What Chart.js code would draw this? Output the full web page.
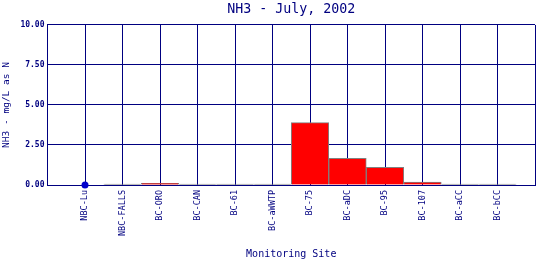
<!DOCTYPE html>
<html>
<head>
<meta charset="utf-8">
<script src="https://cdn.jsdelivr.net/npm/chart.js@4"></script>
<style>
    html, body { margin: 0; padding: 0; background: #fff; }
    #wrap { width: 540px; height: 260px; }
</style>
</head>
<body>
<div id="wrap"><canvas id="nh3Chart" width="540" height="260"></canvas></div>
<script>
// sites along the x axis
const sites = ['NBC-Lu', 'NBC-FALLS', 'BC-ORO', 'BC-CAN', 'BC-61', 'BC-aWWTP',
    'BC-75', 'BC-aDC', 'BC-95', 'BC-107', 'BC-aCC', 'BC-bCC'];
// NH3 concentration (mg/L as N), null = no sample
const nh3Values = [null, 0, 0.1, 0, 0, 0, 3.9, 1.66, 1.1, 0.18, 0, 0];
// site shown as a point marker instead of a bar
const markerValues = [0, null, null, null, null, null, null, null, null, null, null, null];
const yTicks = [0, 2.5, 5, 7.5, 10];

const navy = '#000080';
const mono = 'DejaVu Sans Mono';

document.addEventListener('DOMContentLoaded', function () {
    // blank slot at each end so the sites sit on the grid lines
    const labels = [''].concat(sites, ['']);
    const barData = [null].concat(nh3Values, [null]);
    const pointData = [null].concat(markerValues, [null]);

    const ctx = document.getElementById('nh3Chart').getContext('2d');
    new Chart(ctx, {
        type: 'bar',
        data: {
            labels: labels,
            datasets: [{
                label: 'NH3',
                data: barData,
                // empty bars show only as a grey line on the axis
                backgroundColor: function (c) {
                    return c.raw === 0 ? '#808080' : '#ff0000';
                },
                borderColor: '#808080',
                borderWidth: 1,
                barPercentage: 1,
                categoryPercentage: 1,
                minBarLength: 1,
                order: 1
            }, {
                type: 'line',
                label: 'marker',
                data: pointData,
                showLine: false,
                pointRadius: 3.5,
                pointBackgroundColor: '#0000cc',
                pointBorderColor: '#0000cc',
                pointBorderWidth: 0,
                clip: false,
                order: 0
            }]
        },
        options: {
            responsive: false,
            animation: false,
            layout: {
                padding: { left: 0, right: 5, top: 0, bottom: 0 }
            },
            plugins: {
                legend: { display: false },
                tooltip: { enabled: false },
                title: {
                    display: true,
                    fullSize: false,
                    text: 'NH3 - July, 2002',
                    color: navy,
                    font: { family: mono, size: 13.3, weight: 'normal' },
                    padding: { top: 2, bottom: 7 }
                }
            },
            scales: {
                x: {
                    offset: false,
                    grid: {
                        offset: false,
                        color: navy,
                        lineWidth: 1,
                        drawTicks: false
                    },
                    border: { color: navy, width: 1 },
                    ticks: {
                        autoSkip: false,
                        maxRotation: 90,
                        minRotation: 90,
                        padding: 5,
                        color: navy,
                        font: { family: mono, size: 8.5 }
                    },
                    title: {
                        display: true,
                        text: 'Monitoring Site',
                        color: navy,
                        font: { family: mono, size: 10 },
                        padding: { top: 0, bottom: 0 }
                    },
                    afterFit: function (scale) {
                        scale.height = 75;
                        scale.paddingLeft = 0;
                        scale.paddingRight = 0;
                    }
                },
                y: {
                    min: 0,
                    max: 10,
                    afterBuildTicks: function (scale) {
                        scale.ticks = yTicks.map(v => ({ value: v }));
                    },
                    grid: {
                        color: navy,
                        lineWidth: 1,
                        drawTicks: false
                    },
                    border: { color: navy, width: 1 },
                    ticks: {
                        padding: 3,
                        color: navy,
                        font: { family: mono, size: 8, weight: 'bold' },
                        callback: function (value) {
                            return Number(value).toFixed(2);
                        }
                    },
                    title: {
                        display: true,
                        text: 'NH3 - mg/L as N',
                        color: navy,
                        font: { family: mono, size: 9.5 },
                        padding: { top: 1, bottom: 0 }
                    },
                    afterFit: function (scale) {
                        scale.width = 47.5;
                    }
                }
            }
        }
    });
});
</script>
</body>
</html>
